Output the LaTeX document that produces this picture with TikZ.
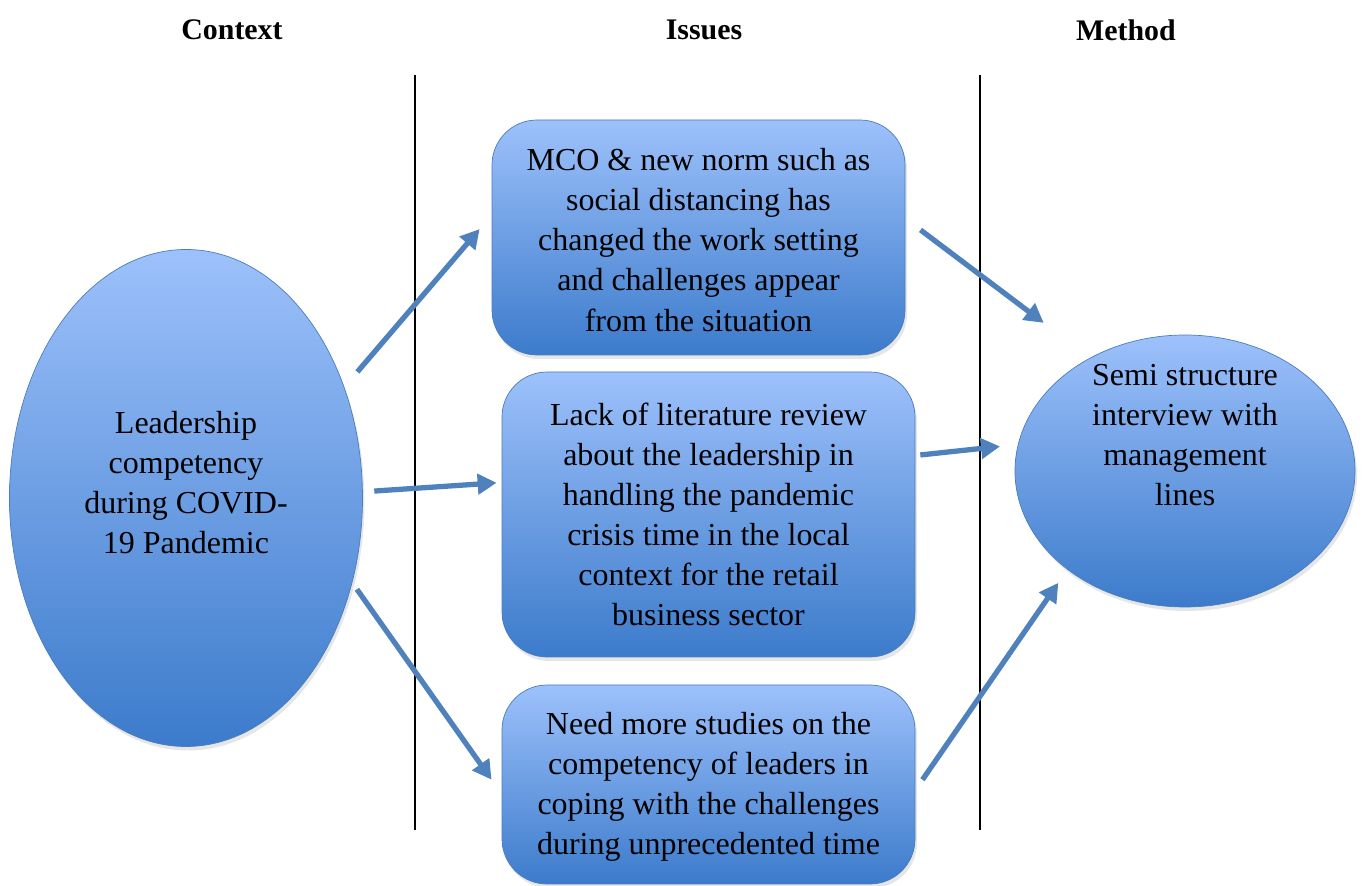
\documentclass[tikz,border=0pt]{standalone}
\usepackage{xcolor}
\usepackage{fontspec}
\setmainfont{Liberation Serif}
\usepackage{tikz}
\usetikzlibrary{shapes.geometric, positioning, arrows.meta, shadows}

\definecolor{boxtop}{RGB}{157,193,251}
\definecolor{boxbot}{RGB}{60,123,203}
\definecolor{boxline}{RGB}{74,126,187}
\definecolor{arrowblue}{RGB}{79,129,189}

% centred lines of text, raised by #1 without changing the node size
\newcommand{\lift}[2]{\raisebox{#1}[0pt][0pt]{\begin{tabular}{@{}c@{}}#2\end{tabular}}}

\begin{document}
\begin{tikzpicture}[
    txt/.style={font=\fontsize{18.2}{22.8}\selectfont, align=center},
    head/.style={font=\fontsize{17}{22.8}\selectfont\bfseries},
    blob/.style={txt, draw=boxline, thin, top color=boxtop, bottom color=boxbot,
                 drop shadow={opacity=0.2, shadow xshift=0.04cm, shadow yshift=-0.08cm}},
    oval/.style={blob, ellipse, inner sep=0pt},
    issue_box/.style={blob, rectangle, rounded corners=0.9cm, minimum width=8.26cm},
    divider/.style={draw=black, line width=1.2pt},
    arr/.style={draw=arrowblue, line width=3pt, -{Triangle[length=0.38cm, width=0.4cm]}}
]

\useasboundingbox (0,0) rectangle (27.3,17.72);

% Column headings
\node[head] (h_context) at (4.64,17.12) {Context};
\node[head] (h_issues)  at (14.08,17.12) {Issues};
\node[head] (h_method)  at (22.52,17.12) {Method};

% Column dividers
\coordinate (d1_top) at (8.3,16.22);
\coordinate (d1_bot) at (8.3,1.12);
\coordinate (d2_top) at (19.6,16.22);
\coordinate (d2_bot) at (19.6,1.12);
\draw[divider] (d1_top) -- (d1_bot);
\draw[divider] (d2_top) -- (d2_bot);

% Context
\node[oval, minimum width=7.06cm, minimum height=9.94cm] (ctx) at (3.72,7.76)
    {\lift{0.1cm}{Leadership\\competency\\during COVID-\\19 Pandemic}};

% Issues
\node[issue_box, minimum height=4.7cm] (iss1) at (13.97,12.97)
    {\lift{-0.26cm}{MCO \& new norm such as\\social distancing has\\changed the work setting\\and challenges appear\\from the situation}};
\node[issue_box, minimum height=5.7cm] (iss2) at (14.17,7.43)
    {\lift{-0.21cm}{Lack of literature review\\about the leadership in\\handling the pandemic\\crisis time in the local\\context for the retail\\business sector}};
\node[issue_box, minimum height=3.98cm] (iss3) at (14.17,2.03)
    {\lift{-0.19cm}{Need more studies on the\\competency of leaders in\\coping with the challenges\\during unprecedented time}};

% Method
\node[oval, minimum width=6.8cm, minimum height=5.44cm] (meth) at (23.7,8.3)
    {\lift{0.52cm}{Semi structure\\interview with\\management\\lines}};

% Arrows from context to issues
\draw[arr, shorten <=0.4cm, shorten >=0.37cm] (ctx.35) -- ([yshift=0.45cm]iss1.west);
\draw[arr, shorten <=0.23cm, shorten >=0.1cm] (ctx.2) -- ([yshift=0.64cm]iss2.west);
\draw[arr, shorten <=0.16cm, shorten >=0.35cm] (ctx.-27) -- ([yshift=-0.19cm]iss3.west);

% Arrows from issues to method
\draw[arr, shorten <=0.38cm, shorten >=1.16cm] ([yshift=0.38cm]iss1.east) -- (meth.130);
\draw[arr, shorten <=0.1cm, shorten >=0.36cm] ([yshift=1.18cm]iss2.east) -- (meth.171);
\draw[arr, shorten <=0.25cm, shorten >=0.32cm] ([yshift=-0.11cm]iss3.east) -- (meth.220);

\end{tikzpicture}
\end{document}
